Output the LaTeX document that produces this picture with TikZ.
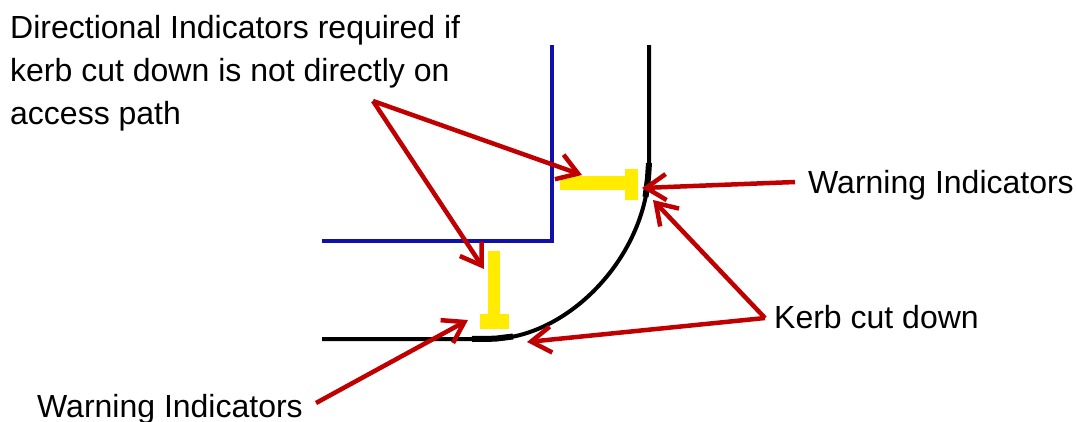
\documentclass[tikz,border=0pt]{standalone}
\usepackage{fontspec}
\setmainfont{Liberation Sans}
\usetikzlibrary{arrows.meta}
\definecolor{kerbred}{RGB}{192,0,0}
\definecolor{pathblue}{RGB}{16,16,170}
\definecolor{indyellow}{RGB}{255,236,0}
\tikzset{
  label text/.style={inner sep=0pt,anchor=base west,text=black,font=\fontsize{32}{43}\selectfont},
  callout/.style={draw=kerbred,line width=4.5pt,line join=miter,-{Straight Barb[length=20pt,width=26pt,line width=4.5pt]}},
  pathline/.style={draw=pathblue,line width=4pt},
  kerbline/.style={draw=black,line width=4pt},
  kerbthick/.style={draw=black,line width=6pt},
  indicator/.style={fill=indyellow,draw=none,inner sep=0pt,anchor=north west},
}
\begin{document}
\begin{tikzpicture}[x=1pt,y=-1pt]
\useasboundingbox (0,0) rectangle (1077,421);
% access path
\coordinate (p1) at (552,45);
\coordinate (p2) at (552,241);
\coordinate (p3) at (322,241);
\draw[pathline,line join=miter] (p1) -- (p2) -- (p3);
% kerb
\coordinate (k1) at (649,45);
\coordinate (k2) at (649,165);
\coordinate (k3) at (490,339);
\coordinate (k4) at (322,339);
\draw[kerbline] (k1) -- (k2) .. controls (649,255) and (568,339) .. (k3) -- (k4);
\draw[kerbthick] (649,163) -- (648,178) -- (645.5,197);
\draw[kerbthick] (472,339) -- (495,338.7) -- (513,336.5);
% indicators
\node[indicator,minimum width=65pt,minimum height=14pt] (h1) at (560,176) {};
\node[indicator,minimum width=13pt,minimum height=31pt] (h2) at (625,169) {};
\node[indicator,minimum width=12pt,minimum height=64pt] (v1) at (488,251) {};
\node[indicator,minimum width=29pt,minimum height=15pt] (v2) at (480,314) {};
% labels
\node[label text] (t1) at (10,38) {Directional Indicators required if};
\node[label text] (t2) at (10,81) {kerb cut down is not directly on};
\node[label text] (t3) at (10,124) {access path};
\node[label text] (w1) at (808,193) {Warning Indicators};
\node[label text] (kc) at (774,328) {Kerb cut down};
\node[label text] (w2) at (37,417.5) {Warning Indicators};
% callouts
\coordinate (s1) at (373,101);
\coordinate (a1) at (582,175);
\coordinate (a2) at (484,269);
\coordinate (s2) at (795,182);
\coordinate (a3) at (642,188);
\coordinate (s3) at (765,318);
\coordinate (a4) at (653,200);
\coordinate (a5) at (527,342);
\coordinate (s4) at (316,403);
\coordinate (a6) at (468,320);
\draw[callout] (s1) -- (a1);
\draw[callout] (s1) -- (a2);
\draw[callout] (s2) -- (a3);
\draw[callout] (s3) -- (a4);
\draw[callout] (s3) -- (a5);
\draw[callout] (s4) -- (a6);
\end{tikzpicture}
\end{document}
